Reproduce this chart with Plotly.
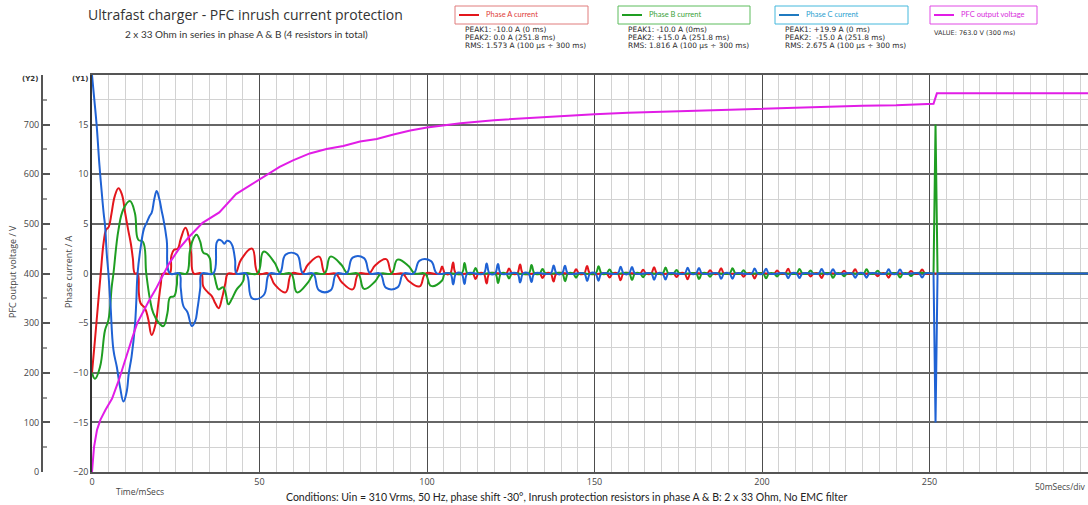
import plotly.graph_objects as go

W, H = 1088, 505
ML, MR, MT, MB = 42, 0, 75, 33

# ---------------- data ----------------
# Initial transient, explicit samples (ms, A)
t_a0 = [0, 0.8, 1.7, 2.6, 3.5, 4.2, 5.0, 5.8, 6.8, 7.9, 8.9, 9.9, 10.8, 11.6, 12.2, 12.8, 13.6,
        14.0, 14.5, 15.8, 16.8, 17.8, 18.9, 19.8, 20.5, 21.2, 23.2, 23.7, 24.5, 25.6, 26.5, 27.9,
        29.0, 29.6, 30.4, 32.6, 33.2, 34.6, 35.8, 36.8, 37.8, 38.8, 39.8, 40.6]
i_a0 = [-10, -7, -3.5, 0, 3.2, 4.4, 4.7, 6.0, 7.8, 8.6, 8.0, 6.1, 4.4, 3.0, 1.5, 0, 0,
        -2.0, -3.0, -3.5, -4.6, -6.2, -5.2, -3.0, -1.2, 0, 0, 1.8, 2.4, 2.5, 3.5, 4.6,
        3.5, 2.0, 0, 0, -1.3, -1.9, -2.3, -3.0, -3.5, -2.5, -1.0, 0]

t_b0 = [0, 0.9, 2.4, 3.9, 4.9, 5.9, 6.4, 7.9, 9.4, 11.3, 12.8, 13.8, 15.2, 16.2, 17.3, 18.3,
        20.0, 21.3, 22.5, 23.3, 24.5, 25.3, 25.8, 28.2, 29.2, 30.0, 31.2, 32.3, 33.2, 34.5,
        35.2, 35.8, 36.2, 37.2, 37.7, 39.2, 39.9, 40.7, 41.7, 43.2, 44.5, 45.2, 45.7]
i_b0 = [-10, -10.6, -9.4, -5.7, -4.7, -1.3, 0, 4.4, 6.5, 7.3, 6.1, 3.4, 3.2, 0, -2.6, -4.0,
        -5.0, -5.3, -4.0, -2.4, -2.3, -1.2, 0, 0, 2.2, 3.3, 3.9, 3.2, 2.1, 1.9,
        1.5, 0, 0, -1.2, -1.6, -1.4, -2.0, -3.1, -2.6, -1.6, -1.1, -0.7, 0]

t_c0 = [0, 0.7, 1.4, 2.2, 2.9, 3.5, 3.9, 4.4, 4.9, 5.5, 6.4, 7.4, 8.4, 9.4, 10.3, 11.0, 11.8,
        12.8, 13.2, 13.6, 14.6, 15.5, 16.3, 17.2, 17.8, 18.6, 19.3, 20.1, 20.8, 21.3, 22.3,
        23.3, 26.0, 26.5, 27.3, 28.5, 29.8, 30.8, 31.5, 32.3, 32.8, 36.2, 37.2, 37.8, 38.7,
        39.5, 40.3, 41.2, 41.9, 42.7, 43.2]
i_c0 = [20, 17.5, 14.9, 11.0, 8.2, 6.0, 4.8, 2.0, 0, -3.0, -7.7, -9.4, -11.5, -12.9, -12.0, -10.0, -8.4,
        -5.3, -3.0, 0, 2.8, 4.5, 5.1, 5.8, 6.1, 7.5, 8.3, 7.5, 6.3, 5.5, 3.4,
        0, 0, -1.5, -3.3, -3.9, -5.3, -4.8, -3.5, -1.5, 0, 0, 3.1, 3.4, 3.3,
        3.0, 3.3, 3.2, 2.8, 1.4, 0]

# Decaying conduction pulses afterwards: time (ms), phase carrying +I, phase carrying -I, amplitude (A)
ev_time = [44.5, 47.8, 51.2, 54.5, 57.8, 61.2, 64.5, 67.8, 71.2, 74.5, 77.8, 81.2,
           84.5, 87.8, 91.2, 94.5, 97.8, 101.2, 104.5, 107.8, 111.2, 114.5, 117.8, 121.2,
           124.5, 127.8, 131.2, 134.5, 137.8, 141.2, 144.5, 147.8, 151.2, 154.5, 157.8, 161.2,
           164.5, 167.8, 171.2, 174.5, 177.8, 181.2, 184.5, 187.8, 191.2, 194.5, 197.8, 201.2,
           204.5, 207.8, 211.2, 214.5, 217.8, 221.2, 224.5, 227.8, 231.2, 234.5, 237.8, 241.2,
           244.5, 247.8]
ev_pos = "AABBCCAABBCCAABBCCAABBCCAABBCCAABBCCAABBCCAABBCCAABBCCAABBCCAA"
ev_neg = "BCCAABBCCAABBCCAABBCCAABBCCAABBCCAABBCCAABBCCAABBCCAABBCCAABBC"
ev_amp = [1.4, 2.5, 2.2, 1.1, 1.9, 1.9, 0.9, 1.7, 1.7, 0.85, 1.6, 1.55,
          0.8, 1.45, 1.4, 0.75, 1.3, 1.25, 0.7, 1.1, 1.05, 0.55, 1.0, 0.95,
          0.5, 0.9, 0.85, 0.45, 0.8, 0.78, 0.42, 0.75, 0.72, 0.4, 0.68, 0.66,
          0.38, 0.63, 0.6, 0.35, 0.58, 0.56, 0.33, 0.54, 0.52, 0.32, 0.5, 0.49,
          0.3, 0.47, 0.46, 0.3, 0.45, 0.44, 0.28, 0.43, 0.42, 0.27, 0.42, 0.41,
          0.26, 0.4]
ev_halfwidth = [1.8] * 18 + [0.9] * 44

# Switch-on event at 251.8 ms
t_spike = [250.9, 251.2, 251.8, 252.4, 300]
i_spike_a = [0, 0, 0, 0, 0]
i_spike_b = [0, 0, 15, 0, 0]
i_spike_c = [0, 0, -15, 0, 0]

# PFC output voltage (ms, V)
t_v = [0, 0.6, 1.5, 2.5, 4, 6, 8, 10, 12, 13.5, 15, 17, 19, 21, 23, 26, 29, 33, 38, 43, 47, 50,
       53, 56, 60, 65, 70, 75, 80, 85, 90, 95, 100, 105, 110, 120, 130, 140, 150, 160, 170,
       180, 190, 200, 210, 220, 230, 240, 250, 251.2, 252.2, 300]
v_out = [0, 50, 85, 105, 125, 148, 185, 230, 270, 300, 320, 345, 368, 395, 420, 450, 474, 502,
         523, 560, 577, 591, 602, 615, 628, 642, 651, 657, 666, 671, 680, 688, 694, 698, 703,
         709, 713, 718, 721, 724, 726, 729, 731, 733, 735, 736, 738, 739, 741, 742, 763, 763]

x_ticks = [0, 50, 100, 150, 200, 250]
y1_ticks = [-20, -15, -10, -5, 0, 5, 10, 15]
y2_ticks = [0, 100, 200, 300, 400, 500, 600, 700]

assert len(ev_time) == len(ev_pos) == len(ev_neg) == len(ev_amp) == len(ev_halfwidth)

COL_A, COL_B, COL_C, COL_V = "#e3161c", "#1f9e22", "#1f62d4", "#e11de6"


def phase_points(name, t0, i0):
    ts, vs = list(t0), list(i0)
    end = t0[-1]
    prev = None
    for t, p, n, a, hw in zip(ev_time, ev_pos, ev_neg, ev_amp, ev_halfwidth):
        if p == name:
            val = a
        elif n == name:
            val = -a
        else:
            continue
        if t - hw < end:
            continue
        join = (prev is not None and (prev[1] > 0) == (val > 0)
                and (t - hw) - (prev[0] + prev[2]) < 1.0)
        if join:
            ts.pop(); vs.pop()
        else:
            ts.append(t - hw); vs.append(0)
        ts.append(t); vs.append(val)
        ts.append(t + hw); vs.append(0)
        prev = (t, val, hw)
    ts.append(250.9); vs.append(0)
    return ts, vs


fig = go.Figure()
fig.add_trace(go.Scatter(x=t_v, y=v_out, yaxis="y2", mode="lines",
                         line=dict(color=COL_V, width=2), hoverinfo="skip"))
for name, t0, i0, sp, col in [("A", t_a0, i_a0, i_spike_a, COL_A),
                              ("B", t_b0, i_b0, i_spike_b, COL_B),
                              ("C", t_c0, i_c0, i_spike_c, COL_C)]:
    ts, vs = phase_points(name, t0, i0)
    fig.add_trace(go.Scatter(x=ts, y=vs, mode="lines",
                             line=dict(color=col, width=2, shape="spline", smoothing=1.2),
                             hoverinfo="skip"))
    fig.add_trace(go.Scatter(x=t_spike, y=sp, mode="lines",
                             line=dict(color=col, width=2), hoverinfo="skip"))

PW = W - ML - MR
PH = H - MT - MB


def px(x):
    return (x - ML) / PW


def py(y):
    return 1 - (y - MT) / PH


x0_dom = px(92)
X_MAX = (W - 92) / 3.35

fig.update_layout(
    width=W, height=H, margin=dict(l=ML, r=MR, t=MT, b=MB),
    paper_bgcolor="white", plot_bgcolor="white", showlegend=False,
    xaxis=dict(domain=[x0_dom, 1], range=[0, X_MAX], tickvals=x_ticks,
               showgrid=True, gridcolor="#4d4d4d", gridwidth=1.2, zeroline=False,
               showline=True, linecolor="#555555", linewidth=1.5, mirror=True,
               ticks="", tickfont=dict(family="Open Sans", size=9, color="#444"),
               minor=dict(dtick=5, showgrid=True, gridcolor="#d2d2d2", gridwidth=1.2)),
    yaxis=dict(range=[-20, 20], tickvals=y1_ticks,
               showgrid=True, gridcolor="#666666", gridwidth=1.6, zeroline=False,
               showline=True, linecolor="#333333", linewidth=1.5,
               ticks="", tickfont=dict(family="Open Sans", size=9, color="#444"),
               minor=dict(dtick=2.5, showgrid=True, gridcolor="#d2d2d2", gridwidth=1.2)),
    yaxis2=dict(range=[0, 800], tickvals=y2_ticks, overlaying="y", side="left",
                anchor="free", position=0, showgrid=False, zeroline=False,
                showline=True, linecolor="#555555", linewidth=2,
                ticks="inside", ticklen=7, tickcolor="#555555", tickwidth=1.5,
                tickfont=dict(family="Open Sans", size=9, color="#444"),
                minor=dict(dtick=50, ticks="inside", ticklen=4, tickcolor="#999999",
                           showgrid=False)),
)

ann = []
shapes = []


def text(x, y, s, size=9, color="#333", family="Open Sans", xanchor="left", bold=False,
         angle=0):
    if bold:
        s = "<b>" + s + "</b>"
    ann.append(dict(x=px(x), y=py(y), xref="paper", yref="paper", text=s, showarrow=False,
                    xanchor=xanchor, yanchor="middle", textangle=angle,
                    font=dict(family=family, size=size, color=color)))


text(245, 15, "Ultrafast charger - PFC inrush current protection", size=14, color="#333",
     xanchor="center")
text(246, 34, "2 x 33 Ohm in series in phase A &amp; B (4 resistors in total)", size=10,
     family="Lato", color="#333", xanchor="center")

legend = [
    (455, 588, "Phase A current", COL_A, "#e07d7d", "#e0403a",
     ["PEAK1: -10.0 A (0 ms)", "PEAK2: 0.0 A (251.8 ms)", "RMS: 1.573 A (100 µs ÷ 300 ms)"]),
    (618, 750, "Phase B current", COL_B, "#5cbc5c", "#3aa23a",
     ["PEAK1: -10.0 A (0ms)", "PEAK2: +15.0 A (251.8 ms)", "RMS: 1.816 A (100 µs ÷ 300 ms)"]),
    (775, 908, "Phase C current", "#1f7ac0", "#45b8dc", "#2a9fd0",
     ["PEAK1: +19.9 A (0 ms)", "PEAK2:  -15.0 A (251.8 ms)", "RMS: 2.675 A (100 µs ÷ 300 ms)"]),
    (930, 1037, "PFC output voltage", COL_V, "#e04ae4", "#d82cdc", None),
]
for x0, x1, lab, lcol, bcol, tcol, lines in legend:
    shapes.append(dict(type="rect", xref="paper", yref="paper", x0=px(x0), x1=px(x1),
                       y0=py(24), y1=py(6), line=dict(color=bcol, width=1),
                       fillcolor="white"))
    shapes.append(dict(type="line", xref="paper", yref="paper", x0=px(x0 + 4), x1=px(x0 + 24),
                       y0=py(15), y1=py(15), line=dict(color=lcol, width=2)))
    text(x0 + 29, 14.5, lab, size=7.5, color=tcol, family="Lato")
    if lines:
        for j, s in enumerate(lines):
            text(x0 + 8, 29.5 + 8 * j, s.replace(" ", "&nbsp;") if "  " in s else s,
                 size=7.4, family="DejaVu Sans", color="#2a2a2a")
text(932, 33, "VALUE: 763.0 V (300 ms)", size=6.5, family="DejaVu Sans", color="#333")

text(30, 79, "(Y2)", size=7, color="#333", xanchor="center", bold=True, family="DejaVu Sans")
text(80, 79, "(Y1)", size=7, color="#333", xanchor="center", bold=True, family="DejaVu Sans")
text(12, 272, "PFC output voltage / V", size=9, color="#444", xanchor="center", angle=-90)
text(68, 272, "Phase current / A", size=9, color="#444", xanchor="center", angle=-90)
text(114, 491, "Time/mSecs", size=8.5, color="#444")
text(1033, 486, "50mSecs/div", size=8.5, color="#444")
text(566, 497, "Conditions: Uin = 310 Vrms, 50 Hz, phase shift -30°, Inrush protection "
               "resistors in phase A &amp; B: 2 x 33 Ohm, No EMC filter",
     size=10.5, family="Lato", color="#222", xanchor="center")

fig.update_layout(annotations=ann, shapes=shapes)
fig.write_html("out.html")
